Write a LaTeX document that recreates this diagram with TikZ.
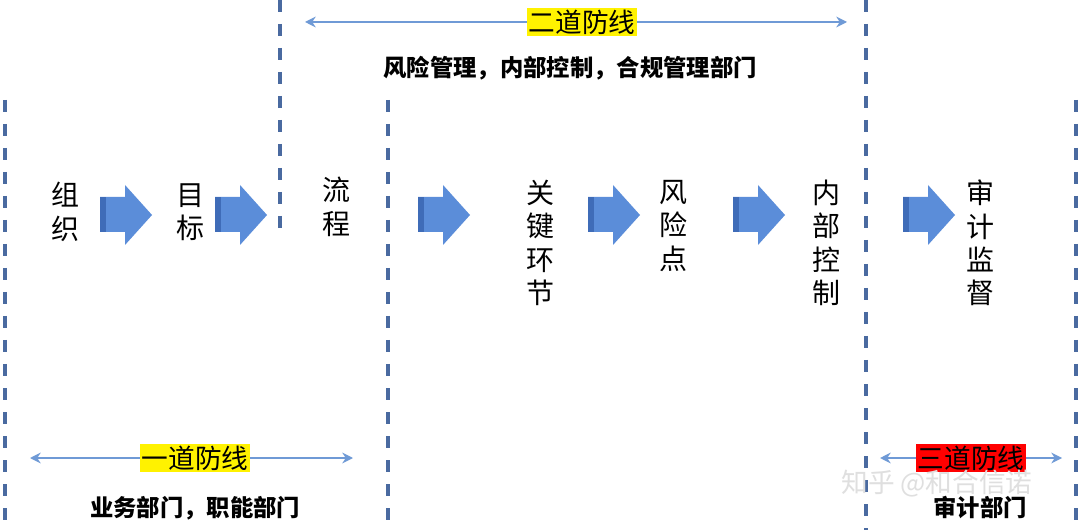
\documentclass[tikz,border=0pt]{standalone}
\usepackage{fontspec}
\setmainfont{Noto Sans CJK SC}
\usetikzlibrary{arrows.meta}
\begin{document}
\begin{tikzpicture}[x=0.75pt,y=-0.75pt,
  dl/.style={draw=dashblue,line width=3pt,dash pattern=on 9pt off 9pt},
  ha/.style={draw=lblue,line width=1.5pt,<->,>={Stealth[length=8pt,width=8pt]}},
  vt/.style={font=\fontsize{21}{25}\selectfont,align=center,inner sep=0},
  bt/.style={font=\fontsize{17.5}{20}\selectfont\bfseries,inner sep=0},
  lab/.style={font=\fontsize{20}{22}\selectfont,inner sep=1.5pt}]
\definecolor{dashblue}{HTML}{4A6AA0}
\definecolor{lblue}{HTML}{6F9AD6}
\definecolor{ablue}{HTML}{5B8DD9}
\definecolor{adark}{HTML}{3F6CB8}
\useasboundingbox (0,0) rectangle (1080,530);
\fill[white] (0,0) rectangle (1080,530);
% dashed lines
\coordinate (d1a) at (5,100); \coordinate (d1b) at (5,530);
\coordinate (d2a) at (280,0); \coordinate (d2b) at (280,232);
\coordinate (d3a) at (388,100); \coordinate (d3b) at (388,530);
\coordinate (d4a) at (866,0); \coordinate (d4b) at (866,530);
\coordinate (d5a) at (1076,100); \coordinate (d5b) at (1076,530);
\foreach \a/\b in {d1a/d1b,d2a/d2b,d3a/d3b,d4a/d4b,d5a/d5b} \draw[dl] (\a)--(\b);
% block arrows
\foreach \x in {100,215,418,588,733,903}{
  \fill[ablue] (\x,197) -- (\x+25,197) -- (\x+25,185) -- (\x+52,215) -- (\x+25,245) -- (\x+25,232) -- (\x,232) -- cycle;
  \fill[adark] (\x,197) rectangle (\x+6,232);
}
% texts
\node[vt] (n1) at (65,212) {组\\织};
\node[vt] (n2) at (190,212) {目\\标};
\node[vt] (n3) at (336,207) {流\\程};
\node[vt] (n4) at (540,243) {关\\键\\环\\节};
\node[vt] (n5) at (673,226) {风\\险\\点};
\node[vt] (n6) at (826,243) {内\\部\\控\\制};
\node[vt] (n7) at (980,243) {审\\计\\监\\督};
% top
\coordinate (t1) at (305,22); \coordinate (t2) at (847,22);
\draw[ha] (t1)--(t2);
\node[lab,fill=yellow] (l2) at (582,22) {二道防线};
\node[bt] (b2) at (570,68) {风险管理，内部控制，合规管理部门};
% bottom left
\coordinate (u1) at (30,458); \coordinate (u2) at (353,458);
\draw[ha] (u1)--(u2);
\node[lab,fill=yellow] (l1) at (195,458) {一道防线};
\node[bt] (b1) at (195,508) {业务部门，职能部门};
% bottom right
\coordinate (v1) at (880,458); \coordinate (v2) at (1062,458);
\draw[ha] (v1)--(v2);
\node[lab,fill=red] (l3) at (971,458) {三道防线};
\node[font=\fontsize{20}{22}\selectfont,text=gray!25,inner sep=0] (wm) at (937,484) {知乎 @和合信诺};
\node[bt] (b3) at (980,508) {审计部门};
\end{tikzpicture}
\end{document}
